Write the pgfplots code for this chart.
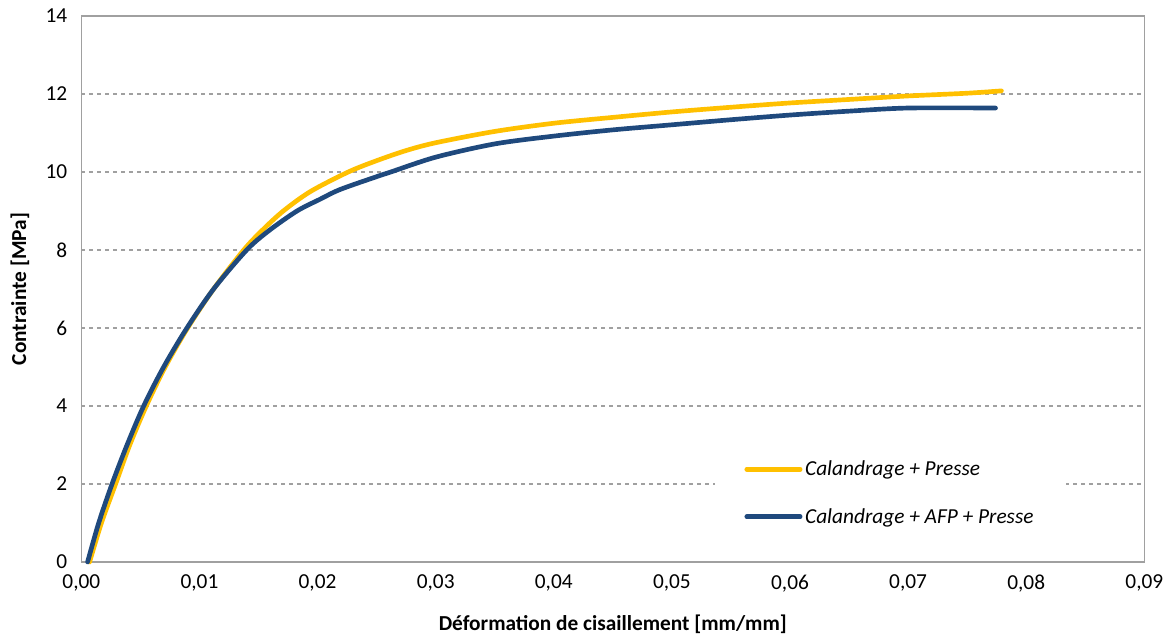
\documentclass[border=0pt]{standalone}
\usepackage{fontspec}
\setmainfont{Carlito}
\usepackage{pgfplots}
\pgfplotsset{compat=1.18}
\definecolor{cyel}{HTML}{FFC000}
\definecolor{cblu}{HTML}{1F497D}
\definecolor{cgrid}{HTML}{A0A0A0}
\begin{document}
\begin{tikzpicture}
\begin{axis}[
  name=ax,
  scale only axis,
  width=797.25pt, height=409.5pt,
  xmin=0, xmax=0.09, ymin=0, ymax=14,
  xtick={0,0.01,0.02,0.03,0.04,0.05,0.06,0.07,0.08,0.09},
  ytick={0,2,4,6,8,10,12,14},
  scaled x ticks=false,
  xticklabel style={/pgf/number format/use comma, /pgf/number format/fixed, /pgf/number format/fixed zerofill, /pgf/number format/precision=2, yshift=-6pt},
  /pgf/number format/assume math mode=true,
  tick label style={font=\fontsize{16}{19}\selectfont, text=black},
  major tick length=0pt,
  axis line style={cgrid, line width=1.1pt},
  ymajorgrids,
  grid style={cgrid, dashed, line width=0.8pt},
  yticklabel style={xshift=-7pt},
  xlabel={\textbf{Déformation de cisaillement [mm/mm]}},
  ylabel={\textbf{Contrainte [MPa]}},
  label style={font=\fontsize{16}{19}\selectfont},
  xlabel style={at={(axis description cs:0.5,0)}, anchor=center, yshift=-46.5pt},
  ylabel style={at={(axis description cs:0,0.5)}, anchor=center, yshift=46pt},
  legend style={at={(rel axis cs:0.596,0.21)}, anchor=north west, draw=none, fill=white,
    font=\itshape\fontsize{16}{19}\selectfont, row sep=19pt, inner xsep=22pt, inner ysep=8pt},
  legend cell align=left,
  legend image code/.code={\draw[#1, line width=3.5pt, line cap=round] (0pt,0pt) -- (40pt,0pt);},
  clip=false,
]
\addplot[cyel, line width=3.5pt, line cap=round, line join=round, smooth, tension=0.5] coordinates {
(0.0007,0) (0.0017,1) (0.0029,2) (0.0041,3) (0.0055,4) (0.0071,5) (0.0090,6)
(0.0112,7) (0.01375,8) (0.0153,8.5) (0.0171,9) (0.0194,9.5) (0.0226,10)
(0.0250,10.29) (0.0275,10.55) (0.0300,10.75) (0.0350,11.04) (0.0400,11.25)
(0.0450,11.40) (0.0500,11.54) (0.0550,11.66) (0.0600,11.77) (0.0650,11.86)
(0.0700,11.95) (0.0750,12.02) (0.0779,12.08)
};
\addlegendentry{Calandrage + Presse}
\addplot[cblu, line width=3.5pt, line cap=round, line join=round, smooth, tension=0.5] coordinates {
(0.00053,0) (0.00147,1) (0.0026,2) (0.00387,3) (0.00528,4) (0.00697,5) (0.00894,6)
(0.0112,7) (0.0140,8) (0.0159,8.5) (0.01826,9) (0.0202,9.30) (0.0219,9.55) (0.0250,9.88)
(0.0262,10) (0.0300,10.38) (0.0350,10.72) (0.0400,10.92)
(0.0450,11.08) (0.0500,11.21) (0.0550,11.34) (0.0600,11.46) (0.0650,11.56)
(0.0700,11.64) (0.0774,11.64)
};
\addlegendentry{Calandrage + AFP + Presse}
\end{axis}
\pgfresetboundingbox
\path (ax.south west) ++(-61pt,-56pt) coordinate (bl);
\path (ax.north east) ++(20pt,12pt) coordinate (tr);
\path[use as bounding box] (bl) rectangle (tr);
\end{tikzpicture}
\end{document}
